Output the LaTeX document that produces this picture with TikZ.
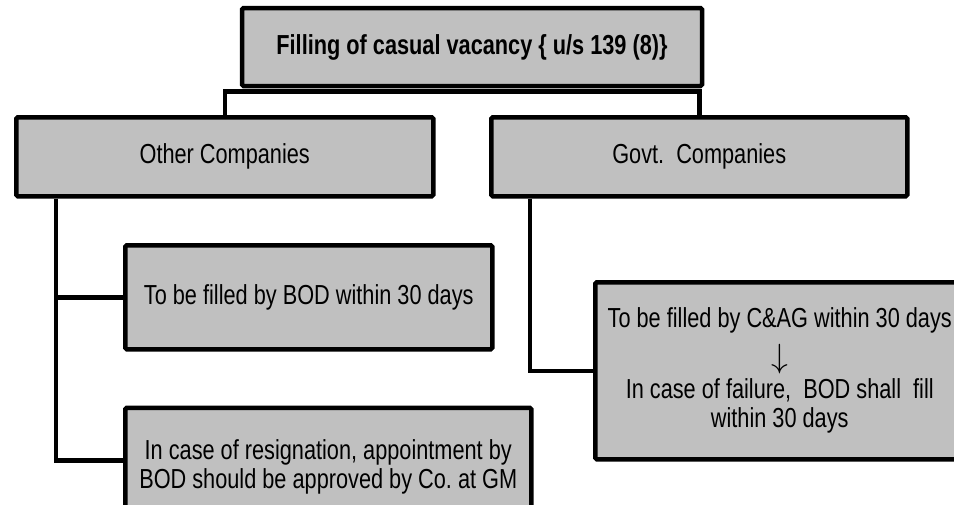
\documentclass[tikz,border=0pt]{standalone}
\usepackage{fontspec}
\setmainfont[FakeStretch=0.79]{Liberation Sans}
\usepackage{tikz}
\usetikzlibrary{positioning}
\definecolor{boxgray}{RGB}{192,192,192}
\frenchspacing

\begin{document}
\begin{tikzpicture} [x=1pt, y=1pt, node distance=29pt]
    \tikzstyle{every node}=[font=\fontsize{27.5}{29}\selectfont]
    \tikzset{
      box/.style={draw=black, rectangle, fill=boxgray, line width=4.5pt, rounded corners=1.5pt, inner sep=0pt, align=center},
      link/.style={draw=black, line width=4.5pt}
    }
    \useasboundingbox (0,0) rectangle (954,-504);
    \clip (0,0) rectangle (954,-504);

    \node[box, minimum width=460pt, minimum height=78pt, font=\fontsize{27.5}{29}\selectfont\bfseries] (vacancy) at (472,-47) {Filling of casual vacancy \{ u/s 139 (8)\}};
    \node[box, minimum width=417pt, minimum height=79pt, anchor=north west] (other) at (14,-115) {Other Companies};
    \node[box, minimum width=416pt, minimum height=79pt, anchor=north west] (govt) at (489,-115) {Govt.~ Companies};

    \node[box, minimum width=367pt, minimum height=104pt, anchor=north west] (bod) at (123,-243) {To be filled by BOD within 30 days};
    \node[box, minimum width=406pt, minimum height=119pt, below=54pt of bod.south west, anchor=north west] (resign) {In case of resignation, appointment by\\ BOD should be approved by Co. at GM};
    \node[box, minimum width=369pt, minimum height=177pt, anchor=north west] (cag) at (593,-280) {To be filled by C\&AG within 30 days\\[10pt] \scalebox{1.35}{$\downarrow$}\\[2pt] In case of failure,~ BOD shall~ fill\\ within 30 days};

    \coordinate (bar) at ([yshift=-3pt]vacancy.south);
    \coordinate (otrunk) at ([xshift=42pt]other.south west);
    \coordinate (gtrunk) at ([xshift=41pt]govt.south west);

    \draw[link] (other.north) |- (bar) -| (govt.north);
    \draw[link] (otrunk) |- (bod.west);
    \draw[link] (otrunk) |- ([yshift=7pt]resign.west);
    \draw[link] (gtrunk) |- (cag.west);

  \end{tikzpicture}
\end{document}
